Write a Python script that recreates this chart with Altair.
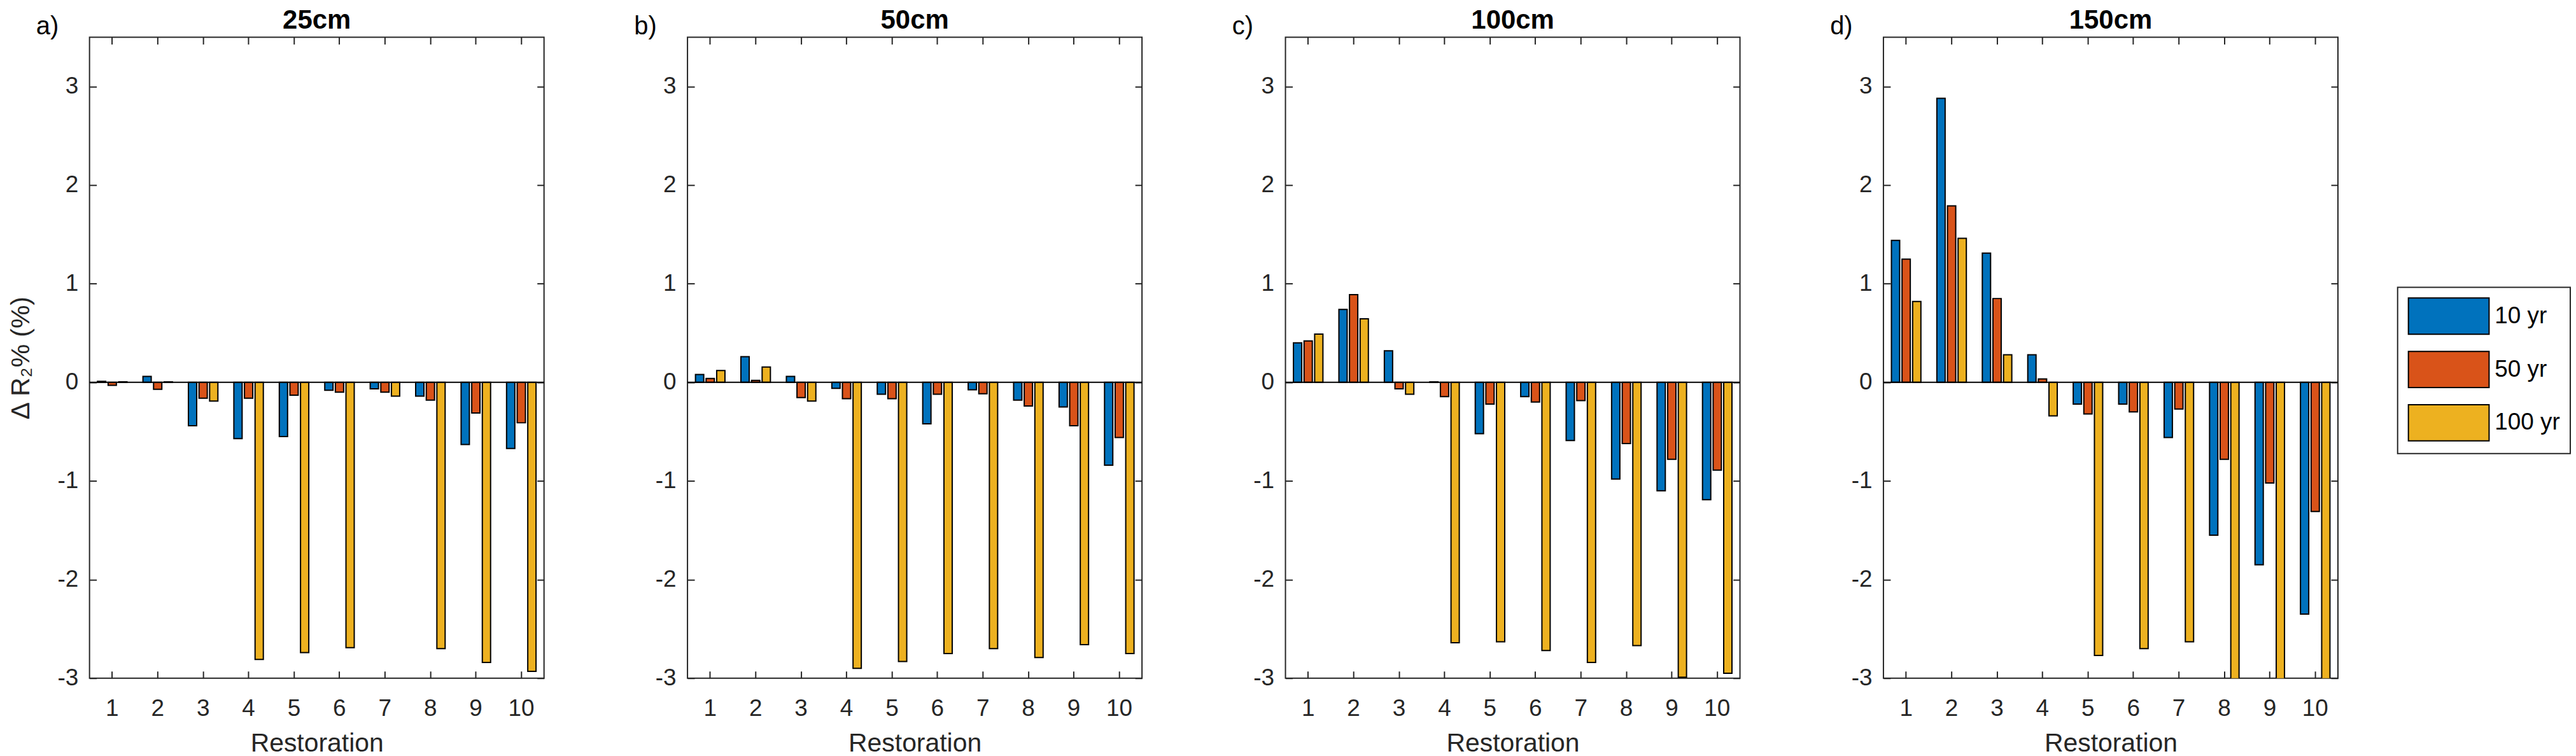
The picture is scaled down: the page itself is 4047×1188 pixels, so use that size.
import altair as alt
import pandas as pd

restoration = list(range(1, 11))
series = ["10 yr", "50 yr", "100 yr"]
colors = ["#0072BD", "#D95319", "#EDB120"]
panel_titles = ["25cm", "50cm", "100cm", "150cm"]
panel_letters = ["a)", "b)", "c)", "d)"]
y_ticks = [-3, -2, -1, 0, 1, 2, 3]

# 25cm
a_10 = [0.01, 0.06, -0.44, -0.57, -0.55, -0.08, -0.065, -0.14, -0.63, -0.67]
a_50 = [-0.03, -0.07, -0.16, -0.16, -0.13, -0.10, -0.10, -0.18, -0.31, -0.41]
a_100 = [0.005, 0.005, -0.19, -2.81, -2.74, -2.69, -0.14, -2.70, -2.84, -2.93]
# 50cm
b_10 = [0.08, 0.26, 0.06, -0.06, -0.12, -0.42, -0.075, -0.18, -0.25, -0.84]
b_50 = [0.04, 0.02, -0.155, -0.165, -0.165, -0.12, -0.115, -0.24, -0.44, -0.56]
b_100 = [0.12, 0.155, -0.19, -2.90, -2.83, -2.75, -2.70, -2.79, -2.66, -2.75]
# 100cm
c_10 = [0.40, 0.74, 0.32, 0.005, -0.52, -0.145, -0.59, -0.98, -1.10, -1.19]
c_50 = [0.42, 0.89, -0.065, -0.145, -0.22, -0.20, -0.185, -0.62, -0.78, -0.89]
c_100 = [0.49, 0.645, -0.12, -2.64, -2.63, -2.72, -2.84, -2.67, -2.99, -2.95]
# 150cm
d_10 = [1.44, 2.88, 1.31, 0.28, -0.22, -0.22, -0.56, -1.55, -1.85, -2.35]
d_50 = [1.25, 1.79, 0.85, 0.035, -0.32, -0.30, -0.27, -0.78, -1.02, -1.31]
d_100 = [0.82, 1.46, 0.28, -0.34, -2.77, -2.70, -2.63, -3.2, -3.2, -3.2]

panels_data = [
    (a_10, a_50, a_100),
    (b_10, b_50, b_100),
    (c_10, c_50, c_100),
    (d_10, d_50, d_100),
]

FONT = "Liberation Sans"
AX = "#262626"
W, H = 716, 1010
TICK = 11

legend = alt.Legend(
    orient="none", legendX=3636, legendY=394, title=None,
    symbolType="M-1,-1L3.46,-1L3.46,1L-1,1Z", symbolSize=3249,
    symbolStrokeColor="black", symbolStrokeWidth=2, symbolOpacity=1,
    labelFontSize=37, labelFont=FONT, labelColor="black", labelOffset=78,
    labelLimit=400, rowPadding=19, padding=16, strokeColor=AX, fillColor="white",
)


def make_panel(i, vals):
    rows = []
    for s, arr in zip(series, vals):
        for r, v in zip(restoration, arr):
            rows.append({"r": r, "s": s, "v": v})
    df = pd.DataFrame(rows)
    xs = alt.Scale(paddingInner=0.30, paddingOuter=0.15)
    ys = alt.Scale(domain=[-3, 3.5], nice=False, zero=False)
    base = alt.Chart(df)

    bars = base.mark_bar(stroke="black", strokeWidth=2, clip=True, opacity=1).encode(
        x=alt.X("r:O", scale=xs, axis=alt.Axis(
            orient="bottom", title="Restoration", labelAngle=0, ticks=False, tickSize=0,
            domain=False, grid=False, labelPadding=30, titlePadding=17,
            labelFontSize=37, titleFontSize=41)),
        xOffset=alt.XOffset("s:N", sort=series,
                            scale=alt.Scale(paddingInner=0.22, paddingOuter=0.11)),
        y=alt.Y("v:Q", scale=ys, axis=alt.Axis(
            orient="left", values=y_ticks, ticks=False, tickSize=0, domain=False,
            grid=False, labelPadding=18, labelExpr="'' + datum.value",
            labelFontSize=37, titleFontSize=41, titlePadding=35,
            title=("Δ R₂%  (%)" if i == 0 else None))),
        color=alt.Color("s:N", sort=series,
                        scale=alt.Scale(domain=series, range=colors), legend=legend),
    )

    tick_axis = dict(labels=False, domain=False, ticks=True, tickSize=TICK, tickWidth=2,
                     tickColor=AX, title=None, grid=False, offset=-TICK)
    ticks_bl = base.mark_bar(opacity=0, clip=True).encode(
        x=alt.X("r:O", scale=xs, axis=alt.Axis(orient="bottom", **tick_axis)),
        y=alt.Y("v:Q", scale=ys, axis=alt.Axis(orient="left", values=y_ticks, **tick_axis)),
    )
    ticks_tr = base.mark_bar(opacity=0, clip=True).encode(
        x=alt.X("r:O", scale=xs, axis=alt.Axis(orient="top", **tick_axis)),
        y=alt.Y("v:Q", scale=ys, axis=alt.Axis(orient="right", values=y_ticks, **tick_axis)),
    )
    zero = alt.Chart(pd.DataFrame({"z": [0]})).mark_rule(color="black", strokeWidth=2).encode(
        y=alt.Y("z:Q", scale=ys, axis=None)
    )
    letter = alt.Chart(pd.DataFrame({"t": [panel_letters[i]]})).mark_text(
        align="left", baseline="alphabetic", font=FONT, fontSize=40, color="black"
    ).encode(text="t:N", x=alt.value(-84), y=alt.value(-4))
    title = alt.Chart(pd.DataFrame({"t": [panel_titles[i]]})).mark_text(
        align="center", baseline="alphabetic", font=FONT, fontSize=42, fontWeight="bold",
        color="black"
    ).encode(text="t:N", x=alt.value(W / 2), y=alt.value(-14))

    return alt.layer(bars, ticks_bl, ticks_tr, zero, letter, title).resolve_axis(
        x="independent", y="independent"
    ).properties(width=W, height=H)


panels = [make_panel(i, v) for i, v in enumerate(panels_data)]

chart = alt.hconcat(*panels, spacing=226, bounds="flush").properties(
    padding={"left": 4, "top": 0, "right": 0, "bottom": 0}
).configure_view(stroke=AX, strokeWidth=2).configure_axis(
    labelFont=FONT, titleFont=FONT, labelColor=AX, titleColor=AX, titleFontWeight="normal"
).configure_legend(strokeWidth=2, labelFontSize=37, labelFont=FONT, labelLimit=400)

chart.save("out.html", embed_options={"renderer": "svg", "actions": False})
